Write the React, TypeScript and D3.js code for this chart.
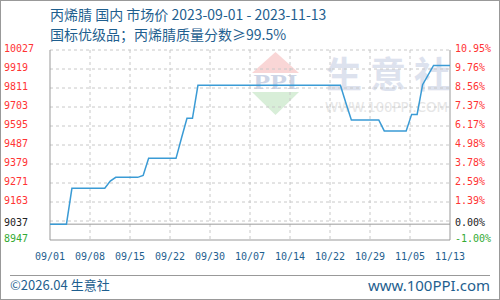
import React from "react";
import * as d3 from "d3";

const titleLine1 = "丙烯腈 国内 市场价 2023-09-01 - 2023-11-13";
const titleLine2 = "国标优级品；丙烯腈质量分数≥99.5%";

const dates = [
  "2023-09-01", "2023-09-04", "2023-09-05", "2023-09-11", "2023-09-12", "2023-09-13",
  "2023-09-17", "2023-09-18", "2023-09-19", "2023-09-24", "2023-09-25", "2023-09-26",
  "2023-09-27", "2023-09-28", "2023-10-24", "2023-10-25", "2023-10-26", "2023-10-31",
  "2023-11-01", "2023-11-05", "2023-11-06", "2023-11-07", "2023-11-08", "2023-11-10",
  "2023-11-13",
];
const prices = [
  9037, 9037, 9241, 9241, 9282, 9303,
  9303, 9314, 9411, 9411, 9527, 9639,
  9639, 9826, 9826, 9726, 9629, 9629,
  9567, 9567, 9661, 9661, 9830, 9939,
  9939,
];

const xTickLabels = ["09/01", "09/08", "09/15", "09/22", "09/30", "10/07", "10/14", "10/22", "10/29", "11/05", "11/13"];
const leftTickValues = [8947, 9037, 9163, 9271, 9379, 9487, 9595, 9703, 9811, 9919, 10027];
const rightTickLabels = ["-1.00%", "0.00%", "1.39%", "2.59%", "3.78%", "4.98%", "6.17%", "7.37%", "8.56%", "9.76%", "10.95%"];
const gridValues = [9055, 9163, 9271, 9379, 9487, 9595, 9703, 9811, 9919, 10027];
const baseValue = 9037;

const W = 500, H = 300;
const L = 50, R = 450, T = 50, B = 240;
const blue = "#1f5f8f";
const red = "#ff3333";
const green = "#33aa33";
const mono = "'DejaVu Sans Mono', monospace";

export default function App() {
  const parse = d3.timeParse("%Y-%m-%d");
  const pts = dates.map((d, i) => ({ date: parse(d) as Date, v: prices[i] }));
  const x = d3.scaleTime().domain([parse("2023-09-01") as Date, parse("2023-11-13") as Date]).range([L, R]);
  const xt = d3.scalePoint<string>().domain(xTickLabels).range([L, R]);
  const y = d3.scaleLinear().domain([8947, 10027]).range([B, T]);
  const line = d3.line<{ date: Date; v: number }>().x((d) => x(d.date)).y((d) => y(d.v));

  const labelColor = (v: number, i: number) => (i === 0 ? green : v === baseValue ? "#222" : red);

  return (
    <svg width={W} height={H} style={{ position: "absolute", left: 0, top: 0 }}>
      <rect x={0.5} y={0.5} width={W - 1} height={H - 1} fill="#fff" stroke="#999" />
      <text x={50} y={20} fontSize={14} fill={blue} fontFamily="'Noto Sans CJK SC', sans-serif">{titleLine1}</text>
      <text x={50} y={40} fontSize={14} fill={blue} fontFamily="'Noto Sans CJK SC', sans-serif">{titleLine2}</text>

      {/* watermark */}
      <g>
        <polygon points="252,73 299,73 275.5,52" fill="#f9d6d6" />
        <polygon points="252,92 299,92 275.5,115" fill="#d8eed8" />
        <text x={275.5} y={89} textAnchor="middle" fontSize={20} fontWeight="bold" fontFamily="'Liberation Serif', serif" fill="#cdd5e6" textLength={44} lengthAdjust="spacingAndGlyphs">PPI</text>
        <text x={326} y={88} fontSize={36} fontWeight="bold" letterSpacing={8} fill="#dde2ee" fontFamily="'Noto Sans CJK SC', sans-serif">生意社</text>
        <text x={325} y={112} fontSize={14} fill="#e6e6e6" fontFamily="'DejaVu Sans', sans-serif" textLength={123} lengthAdjust="spacingAndGlyphs">WWW.100PPI.COM</text>
      </g>

      {/* grid */}
      {gridValues.map((v) => (
        <line key={"g" + v} x1={L} x2={R} y1={y(v)} y2={y(v)} stroke="#c8c8c8" strokeDasharray="3,3" />
      ))}
      {xTickLabels.slice(1, -1).map((t) => (
        <line key={"v" + t} x1={xt(t)} x2={xt(t)} y1={T} y2={B} stroke="#c8c8c8" strokeDasharray="3,3" />
      ))}
      <line x1={L} x2={R} y1={y(baseValue)} y2={y(baseValue)} stroke="#999" />
      <line x1={L} x2={L} y1={T} y2={B} stroke="#999" />
      <line x1={R} x2={R} y1={T} y2={B} stroke="#999" />
      <line x1={L} x2={R} y1={B} y2={B} stroke="#999" />

      <path d={line(pts) || ""} fill="none" stroke="#3a9bd5" strokeWidth={1.5} />

      {leftTickValues.map((v, i) => (
        <text key={"l" + v} x={4} y={y(v) - 1} dominantBaseline="middle" fontSize={10} fontFamily={mono} fill={labelColor(v, i)}>{v}</text>
      ))}
      {rightTickLabels.map((t, i) => (
        <text key={"r" + t} x={455} y={y(leftTickValues[i]) - 1} dominantBaseline="middle" fontSize={10} fontFamily={mono} fill={labelColor(leftTickValues[i], i)}>{t}</text>
      ))}
      {xTickLabels.map((t) => (
        <text key={"x" + t} x={xt(t)} y={257} textAnchor="middle" dominantBaseline="middle" fontSize={10} fontFamily={mono} fill={blue}>{t}</text>
      ))}

      <line x1={10} x2={490} y1={275.5} y2={275.5} stroke="#999" />
      <text x={10} y={290} fontSize={13} fill={blue} fontFamily="'Noto Sans CJK SC', sans-serif">©2026.04 生意社</text>
      <text x={490} y={291} textAnchor="end" fontSize={15} fill={blue} fontFamily="'Noto Sans', sans-serif">www.100PPI.com</text>
    </svg>
  );
}
